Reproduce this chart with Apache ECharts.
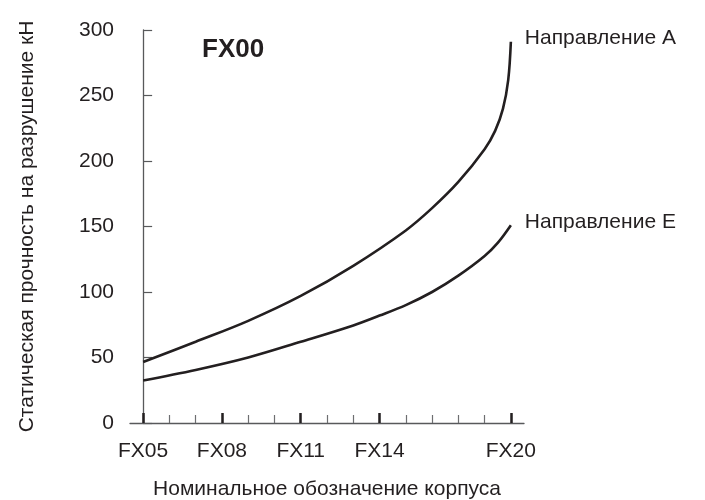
<!DOCTYPE html>
<html>
<head>
<meta charset="utf-8">
<script src="https://cdn.jsdelivr.net/npm/echarts@6/dist/echarts.min.js"></script>
<style>html,body{margin:0;padding:0;background:#fff}#c{width:705px;height:500px}</style>
</head>
<body>
<div id="c"></div>
<script>
const categories = ['FX05','FX06','FX07','FX08','FX09','FX10','FX11','FX12','FX13','FX14','FX15','FX16','FX17','FX18','FX20'];
const labeledIdx = [0, 3, 6, 9, 14];
const yTicks = [0, 50, 100, 150, 200, 250, 300];
const seriesNames = ['Направление А', 'Направление Е'];
// [category position, kN]
const dirA = [[0,46.5],[2,62],[4,78],[6,97],[8,120],[10,147],[11,164],[12,184],[13,209],[13.4,223],[13.7,240],[13.9,262],[14,291]];
const dirE = [[0,32.5],[2,40.5],[4,50],[6,62],[8,74.5],[9,82],[10,90],[11,100],[12,112.5],[13,127.5],[13.5,137.5],[14,151]];
const titleText = 'FX00';
const xName = 'Номинальное обозначение корпуса';
const yName = 'Статическая прочность на разрушение кН';

const FONT = 'Liberation Sans, Arial, sans-serif';
const TXT = '#231f20';
const chart = echarts.init(document.getElementById('c'), null, {renderer:'canvas'});
const showIdx = (i) => labeledIdx.indexOf(i) >= 0;
chart.setOption({
  animation: false,
  backgroundColor: '#fff',
  title: { text: titleText, left: 197, top: 32, textStyle: { fontFamily: FONT, fontSize: 26, fontWeight: 'bold', color: TXT } },
  grid: { left: 130, top: 30, width: 394, height: 393, containLabel: false, outerBoundsMode: 'none' },
  xAxis: [
    { type: 'category', data: categories, boundaryGap: true, position: 'bottom',
      axisLine: { show: true, lineStyle: { color: '#58595b', width: 1.3 } },
      axisTick: { show: true, interval: 0, inside: true, alignWithLabel: true, length: 8, lineStyle: { color: '#6d6e71', width: 1.2 } },
      axisLabel: { interval: (i) => showIdx(i), margin: 18, fontFamily: FONT, fontSize: 21, color: TXT },
      name: xName, nameLocation: 'middle', nameGap: 56, nameTextStyle: { fontFamily: FONT, fontSize: 21, color: TXT },
      splitLine: { show: false } },
    { type: 'category', data: categories, boundaryGap: true, position: 'bottom', offset: 0,
      axisLine: { show: false },
      axisTick: { show: true, inside: true, alignWithLabel: true, interval: (i) => showIdx(i), length: 10, lineStyle: { color: TXT, width: 2.5 } },
      axisLabel: { show: false }, splitLine: { show: false } },
    { type: 'value', min: -0.5, max: 14.5, show: false }
  ],
  yAxis: {
    type: 'value', min: 0, max: 300, interval: 50,
    axisLine: { show: true, lineStyle: { color: '#58595b', width: 1.3 } },
    axisTick: { show: true, inside: true, length: 9, lineStyle: { color: '#58595b', width: 1.2 } },
    axisLabel: { margin: 16, fontFamily: FONT, fontSize: 21, color: TXT,
      formatter: (v) => yTicks.indexOf(v) >= 0 ? String(v) : '' },
    splitLine: { show: false },
    name: yName, nameLocation: 'middle', nameGap: 92, nameRotate: 90,
    nameTextStyle: { fontFamily: FONT, fontSize: 21, color: TXT }
  },
  series: [
    { name: seriesNames[0], type: 'line', xAxisIndex: 2, data: dirA, smooth: 0.35, showSymbol: false, symbol: 'none',
      lineStyle: { color: TXT, width: 2.6 },
      endLabel: { show: true, formatter: (p) => p.seriesName, distance: 14, offset: [0, -4], fontFamily: FONT, fontSize: 21, color: TXT } },
    { name: seriesNames[1], type: 'line', xAxisIndex: 2, data: dirE, smooth: 0.35, showSymbol: false, symbol: 'none',
      lineStyle: { color: TXT, width: 2.6 },
      endLabel: { show: true, formatter: (p) => p.seriesName, distance: 14, offset: [0, -3], fontFamily: FONT, fontSize: 21, color: TXT } }
  ]
});
</script>
</body>
</html>
